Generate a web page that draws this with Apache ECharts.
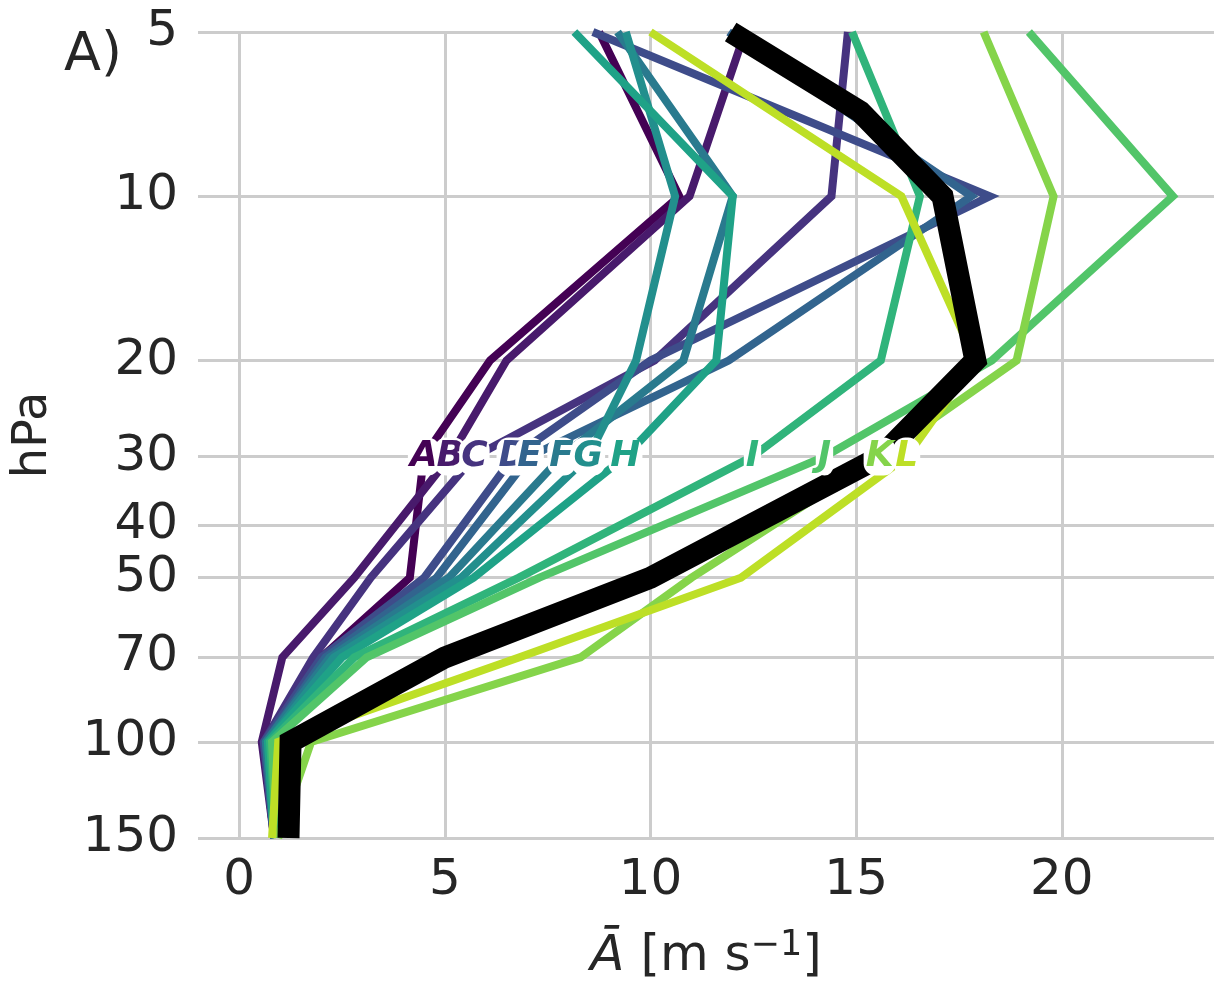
<!DOCTYPE html>
<html>
<head>
<meta charset="utf-8">
<script src="https://cdn.jsdelivr.net/npm/echarts@6/dist/echarts.min.js"></script>
<style>
  html, body { margin: 0; padding: 0; background: #ffffff; }
  #chart { width: 1214px; height: 984px; }
</style>
</head>
<body>
<div id="chart"></div>
<script>
// Pressure levels (hPa) of the member profiles
const levels = [5, 10, 20, 30, 50, 70, 100, 150];

// Zonal-mean amplitude profiles [m s^-1] for each member, ordered by level
const windA = [8.75, 10.7, 6.1, 4.49, 4.15, 2.0, 0.6, 0.85];
const windB = [12.3, 10.95, 6.5, 5.13, 2.8, 1.05, 0.55, 0.85];
const windC = [14.8, 14.4, 10.1, 5.72, 3.2, 1.8, 0.6, 0.85];
const windD = [8.6, 18.25, 10.0, 6.67, 4.5, 2.0, 0.6, 0.85];
const windE = [11.9, 17.8, 11.9, 7.06, 4.8, 2.1, 0.65, 0.85];
const windF = [9.2, 12.0, 10.8, 7.84, 5.1, 2.2, 0.65, 0.85];
const windG = [9.4, 10.6, 9.65, 8.49, 5.4, 2.3, 0.7, 0.85];
const windH = [8.15, 12.0, 11.6, 9.39, 5.7, 2.5, 0.7, 0.85];
const windI = [14.9, 16.55, 15.6, 12.48, 6.8, 2.8, 0.75, 0.9];
const windJ = [19.2, 22.7, 18.3, 14.23, 7.3, 3.1, 0.8, 0.9];
const windK = [18.1, 19.8, 18.9, 15.57, 11.0, 8.3, 1.75, 0.95];
const windL = [10.0, 16.1, 17.9, 16.23, 12.2, 6.8, 0.95, 0.8];

// Ensemble mean profile, on its own set of levels
const meanLevels = [5, 7, 10, 20, 30, 50, 70, 100, 150];
const meanWind = [11.95, 15.1, 17.1, 17.9, 15.6, 10.0, 5.0, 1.25, 1.2];

const memberNames = ['A', 'B', 'C', 'D', 'E', 'F', 'G', 'H', 'I', 'J', 'K', 'L'];
const memberWinds = [windA, windB, windC, windD, windE, windF, windG, windH, windI, windJ, windK, windL];
// viridis sampled from 0 to 0.9
const memberColors = ['#440154', '#481a6c', '#46337f', '#3e4c8a', '#32648e', '#297a8e',
                      '#228f8d', '#1fa287', '#30b47b', '#52c569', '#85d44a', '#bddf26'];

const labelLevel = 30;
const pressureTicks = [5, 10, 20, 30, 40, 50, 70, 100, 150];
const speedTicks = [0, 5, 10, 15, 20];

const textColor = '#262626';
const font = 'DejaVu Sans';

const series = [];
memberNames.forEach(function (name, i) {
  series.push({
    name: name,
    type: 'line',
    data: levels.map(function (p, k) { return [memberWinds[i][k], p]; }),
    symbol: 'none',
    lineStyle: { color: memberColors[i], width: 8, join: 'miter' },
    z: 2,
    silent: true
  });
});
series.push({
  name: 'mean',
  type: 'line',
  data: meanLevels.map(function (p, k) { return [meanWind[k], p]; }),
  symbol: 'none',
  lineStyle: { color: '#000000', width: 22, join: 'miter' },
  z: 3,
  silent: true
});
// Inline member letters at 30 hPa
const labelIndex = levels.indexOf(labelLevel);
memberNames.forEach(function (name, i) {
  series.push({
    type: 'scatter',
    data: [[memberWinds[i][labelIndex], labelLevel]],
    symbol: 'circle',
    symbolSize: 2,
    itemStyle: { color: 'rgba(255,255,255,0)', opacity: 1 },
    z: 5 + i,
    silent: true,
    label: {
      show: true,
      position: 'inside',
      formatter: name,
      color: memberColors[i],
      opacity: 1,
      fontFamily: font,
      fontSize: 36,
      fontWeight: 'bold',
      fontStyle: 'italic',
      backgroundColor: '#ffffff',
      borderRadius: 12,
      padding: [2, 2, 0, 2]
    }
  });
});

const chart = echarts.init(document.getElementById('chart'), null, { renderer: 'canvas' });
chart.setOption({
  animation: false,
  backgroundColor: '#ffffff',
  grid: { left: 198, right: 0, top: 32, bottom: 146, containLabel: false, outerBoundsMode: 'none' },
  xAxis: {
    type: 'value',
    min: -1,
    max: 23.7,
    axisLine: { show: false },
    axisTick: { show: false, customValues: speedTicks },
    axisLabel: { customValues: speedTicks, fontSize: 50, color: textColor, fontFamily: font, margin: 18 },
    splitLine: { show: true, lineStyle: { color: '#cccccc', width: 3 } },
    name: '{a|Ā} [m s{s|−1}]',
    nameLocation: 'middle',
    nameGap: 90,
    nameTextStyle: {
      fontSize: 50, color: textColor, fontFamily: font,
      rich: {
        a: { fontSize: 50, fontStyle: 'italic', color: textColor, fontFamily: font },
        s: { fontSize: 35, color: textColor, fontFamily: font, verticalAlign: 'top', padding: [0, 0, 24, 0] }
      }
    }
  },
  yAxis: {
    type: 'log',
    logBase: 10,
    inverse: true,
    min: 5,
    max: 150,
    axisLine: { show: false },
    axisTick: { show: false, customValues: pressureTicks },
    axisLabel: { customValues: pressureTicks, fontSize: 50, color: textColor, fontFamily: font, margin: 20 },
    splitLine: { show: true, lineStyle: { color: '#cccccc', width: 3 } },
    name: 'hPa',
    nameLocation: 'middle',
    nameRotate: 90,
    nameGap: 140,
    nameTextStyle: { fontSize: 48, color: textColor, fontFamily: font }
  },
  graphic: [{
    type: 'text',
    left: 64,
    top: 29,
    style: { text: 'A)', fontSize: 54, fill: textColor, fontFamily: font }
  }],
  series: series
});
</script>
</body>
</html>
